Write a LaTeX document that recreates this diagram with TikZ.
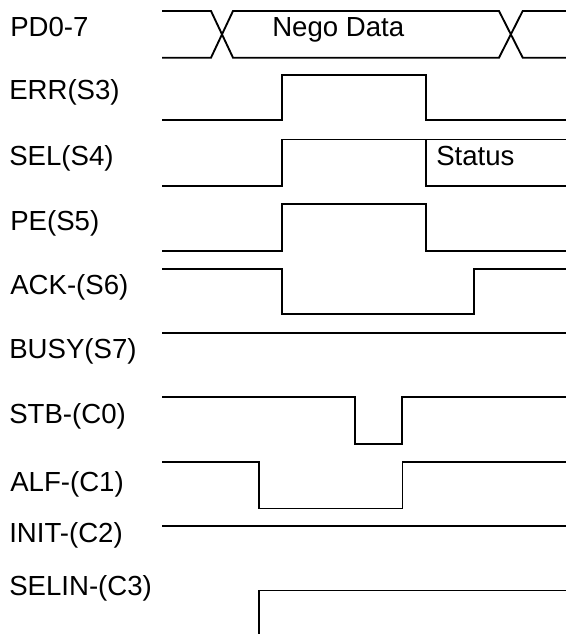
\documentclass[tikz,border=0pt]{standalone}
\usepackage{fontspec}
\setmainfont{Liberation Sans}
\begin{document}
\begin{tikzpicture}[x=0.75pt,y=-0.75pt,
  sig/.style={line width=1.4pt,line join=miter},
  lbl/.style={anchor=base west,inner sep=0pt,font=\fontsize{20.7}{24}\selectfont}]
\useasboundingbox (0,0) rectangle (566,634);
% labels
\node[lbl] (lpd)   at (10,36.7)  {PD0-7};
\node[lbl] (lerr)  at (9,100)    {ERR(S3)};
\node[lbl] (lsel)  at (9,165.7)  {SEL(S4)};
\node[lbl] (lpe)   at (10,230.7) {PE(S5)};
\node[lbl] (lack)  at (10,294)   {ACK-(S6)};
\node[lbl] (lbusy) at (9,358.3)  {BUSY(S7)};
\node[lbl] (lstb)  at (9,423.3)  {STB-(C0)};
\node[lbl] (lalf)  at (10,491.7) {ALF-(C1)};
\node[lbl] (linit) at (9,542.7)  {INIT-(C2)};
\node[lbl] (lselin) at (9,595)   {SELIN-(C3)};
\node[lbl] (nego)  at (272,37)   {Nego Data};
\node[lbl] (stat)  at (436,165.7) {Status};
% PD0-7 bus
\draw[sig] (162,11) -- (211,11) -- (233,57.7) -- (499,57.7) -- (522.7,11) -- (566,11);
\draw[sig] (162,57.7) -- (211,57.7) -- (233,11) -- (499,11) -- (522.7,57.7) -- (566,57.7);
% ERR
\draw[sig] (162,120) -- (282.3,120) -- (282.3,75.3) -- (426,75.3) -- (426,120) -- (566,120);
% SEL
\draw[sig] (162,186) -- (282.3,186) -- (282.3,139.5) -- (566,139.5);
\draw[sig] (426,139.5) -- (426,186) -- (566,186);
% PE
\draw[sig] (162,250.7) -- (282.3,250.7) -- (282.3,204.3) -- (426,204.3) -- (426,250.7) -- (566,250.7);
% ACK
\draw[sig] (162,268.7) -- (282.3,268.7) -- (282.3,314.3) -- (474,314.3) -- (474,268.7) -- (566,268.7);
% BUSY
\draw[sig] (162,332.7) -- (566,332.7);
% STB
\draw[sig] (162,397) -- (354.7,397) -- (354.7,443.7) -- (402.3,443.7) -- (402.3,397) -- (566,397);
% ALF
\draw[sig] (162,461.8) -- (259,461.8) -- (259,508.5) -- (402.5,508.5) -- (402.5,461.8) -- (566,461.8);
% INIT
\draw[sig] (162,526.3) -- (566,526.3);
% SELIN
\draw[sig] (259,634) -- (259,590.5) -- (566,590.5);
\end{tikzpicture}
\end{document}
